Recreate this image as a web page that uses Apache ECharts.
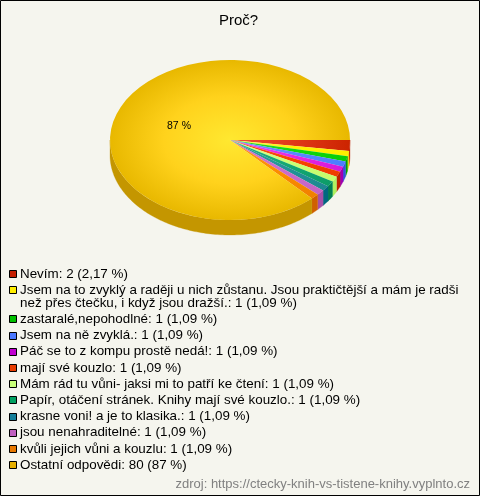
<!DOCTYPE html>
<html><head><meta charset="utf-8">
<style>html,body{margin:0;padding:0;background:#f5f5ee}#c{width:480px;height:496px}</style>
<script src="https://cdn.jsdelivr.net/npm/echarts@6/dist/echarts.min.js"></script>
</head><body><div id="c"></div>
<script>
const categories = [
 ['Nevím'],
 ['Jsem na to zvyklý a raději u nich zůstanu. Jsou praktičtější a mám je radši','než přes čtečku, i když jsou dražší.'],
 ['zastaralé,nepohodlné'],
 ['Jsem na ně zvyklá.'],
 ['Páč se to z kompu prostě nedá!'],
 ['mají své kouzlo'],
 ['Mám rád tu vůni- jaksi mi to patří ke čtení'],
 ['Papír, otáčení stránek. Knihy mají své kouzlo.'],
 ['krasne voni! a je to klasika.'],
 ['jsou nenahraditelné'],
 ['kvůli jejich vůni a kouzlu'],
 ['Ostatní odpovědi']
];
const counts = [2,1,1,1,1,1,1,1,1,1,1,80];
const percents = ['2,17 %','1,09 %','1,09 %','1,09 %','1,09 %','1,09 %','1,09 %','1,09 %','1,09 %','1,09 %','1,09 %','87 %'];
const colors = ['#c41e00','#ffee00','#00c000','#4a78ff','#c000d0','#e83c00','#c8ff78','#00a060','#147f99','#c060c0','#e87800','#e8b000'];
const inner  = ['#f05030','#fff860','#30e030','#7098ff','#f040f0','#ff5020','#d8ff90','#20b080','#30a0a0','#d070d0','#ff9a20','#ffe830'];
const mids   = ['#e03818','#fff200','#10d810','#5888ff','#e428e4','#f84400','#ccff74','#14a874','#249498','#cc6ccc','#fc8c00','#ffd21c'];
const outer  = ['#cc2400','#ffee00','#08cc08','#4c7cff','#d818d8','#ee3c00','#c4fc6c','#0c9c68','#1c8890','#c464c4','#f08000','#e8b800'];
const sides  = ['#c01c00','#e8d800','#00a000','#3050e0','#a000b0','#c02000','#b0f060','#008050','#006880','#a850a8','#d06000','#c49600'];

const FONT = '"Liberation Sans", Arial, sans-serif';
const CX = 230, CY = 140, RX = 120, RY = 80, DEPTH = 15;
const total = counts.reduce((a,b)=>a+b,0);

function renderItem(params, api){
  const i = params.dataIndex;
  let before = 0; for(let k=0;k<i;k++) before += counts[k];
  const a0 = before/total*Math.PI*2, a1 = (before+api.value(0))/total*Math.PI*2;
  const children = [];
  // side wall: only the front half is visible
  const s0 = Math.min(a0,Math.PI), s1 = Math.min(a1,Math.PI);
  if(s1>s0){
    const pts=[]; const n=Math.max(2,Math.ceil((s1-s0)/0.02));
    for(let k=0;k<=n;k++){const t=s0+(s1-s0)*k/n;pts.push([CX+RX*Math.cos(t),CY+RY*Math.sin(t)]);}
    for(let k=n;k>=0;k--){const t=s0+(s1-s0)*k/n;pts.push([CX+RX*Math.cos(t),CY+RY*Math.sin(t)+DEPTH]);}
    children.push({type:'polygon',shape:{points:pts},style:{fill:sides[i],stroke:sides[i],lineWidth:0.3}});
  }
  children.push({type:'group',x:CX,y:CY,scaleY:RY/RX,children:[{
    type:'sector',
    shape:{cx:0,cy:0,r0:0,r:RX,startAngle:a0,endAngle:a1,clockwise:true},
    style:{fill:{type:'radial',x:0,y:0,r:RX,global:true,colorStops:[
      {offset:0,color:inner[i]},{offset:0.55,color:mids[i]},{offset:1,color:outer[i]}]}}
  }]});
  if(i===counts.length-1){
    children.push({type:'text',x:179,y:126,style:{text:percents[i],font:'10.5px '+FONT,fill:'#000',align:'center',verticalAlign:'middle'}});
  }
  return {type:'group',children};
}

// legend rows, stacked from the text
const legend = []; let y = 274;
categories.forEach((lines,i)=>{
  legend.push({type:'rect',shape:{x:9.5,y:Math.round(y)-3.5,width:7,height:7},style:{fill:colors[i],stroke:'#000',lineWidth:1}});
  lines.forEach((ln,j)=>{
    const s = j===lines.length-1 ? ln+': '+counts[i]+' ('+percents[i]+')' : ln;
    legend.push({type:'text',x:20,y:y+j*13,style:{text:s,font:'13.4px '+FONT,fill:'#000',verticalAlign:'middle'}});
  });
  y += 16.2 + (lines.length-1)*13;
});

const chart = echarts.init(document.getElementById('c'),null,{renderer:'canvas'});
chart.setOption({
  animation:false,
  backgroundColor:'#f5f5ee',
  title:{text:'Proč?',left:214,top:8,textStyle:{fontFamily:FONT,fontSize:15,fontWeight:'normal',color:'#000'}},
  series:[{type:'custom',coordinateSystem:'none',data:counts.map((c,i)=>({name:categories[i].join(' '),value:[c]})),renderItem,silent:true}],
  graphic:[...legend,
    {type:'text',right:10,top:478,style:{text:'zdroj: https://ctecky-knih-vs-tistene-knihy.vyplnto.cz',font:'13px '+FONT,fill:'#808080'}},
    {type:'rect',shape:{x:0.5,y:0.5,width:479,height:495},style:{fill:null,stroke:'#000',lineWidth:1}}
  ]
});
</script></body></html>
